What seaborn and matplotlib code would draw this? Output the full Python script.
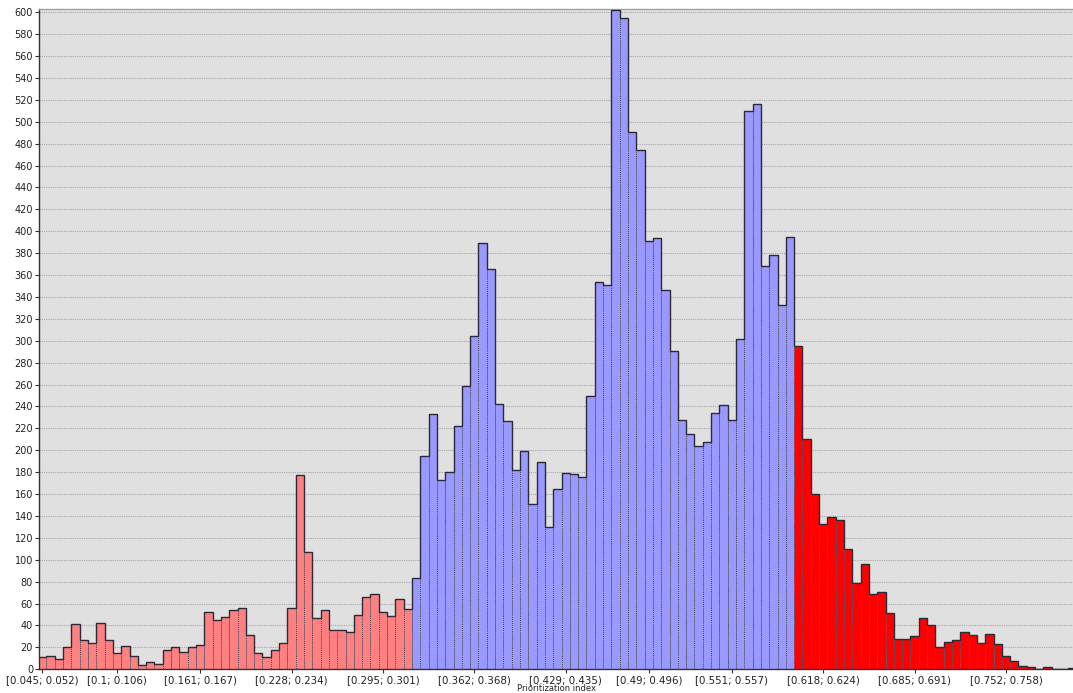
import numpy as np
import pandas as pd
import matplotlib
matplotlib.use("Agg")
import matplotlib.pyplot as plt
import seaborn as sns

# Counts per bin of the prioritization index (bin width ~0.0061, starting at 0.045)
low_counts = [11, 12, 9, 20, 41, 27, 24, 42, 27, 15, 21, 12, 4, 7, 5, 18, 20, 16, 20, 22,
              52, 45, 48, 54, 56, 31, 15, 11, 18, 24, 56, 177, 107, 47, 54, 36, 36, 34, 50, 66,
              69, 52, 49, 64, 55]
mid_counts = [83, 195, 233, 173, 180, 222, 259, 304, 389, 366, 242, 227, 182, 199, 151, 189,
              130, 165, 179, 178, 176, 250, 354, 351, 602, 595, 491, 474, 391, 394, 346, 291,
              228, 215, 204, 208, 234, 241, 228, 302, 510, 516, 368, 378, 333, 395]
high_counts = [295, 210, 160, 133, 139, 136, 110, 79, 96, 69, 71, 51, 28, 28, 30, 47, 40, 20,
               25, 27, 34, 31, 24, 32, 23, 12, 8, 3, 2, 0, 2, 0, 0, 1]

# Labelled bins on the category axis
tick_bins = [0, 9, 19, 30, 41, 52, 63, 73, 83, 94, 105, 116]
tick_labels = ["[0.045; 0.052)", "[0.1; 0.106)", "[0.161; 0.167)", "[0.228; 0.234)",
               "[0.295; 0.301)", "[0.362; 0.368)", "[0.429; 0.435)", "[0.49; 0.496)",
               "[0.551; 0.557)", "[0.618; 0.624)", "[0.685; 0.691)", "[0.752; 0.758)"]
x_title = "Prioritization index"

group_colors = {"low": "#FF8080", "mid": "#9999FF", "high": "#FF0000"}

counts = low_counts + mid_counts + high_counts
groups = (["low"] * len(low_counts) + ["mid"] * len(mid_counts)
          + ["high"] * len(high_counts))
df = pd.DataFrame({"bin": np.arange(len(counts)), "count": counts, "group": groups})

sns.set_theme(style="white")
plt.rcParams["font.family"] = ["DejaVu Sans"]

fig = plt.figure(figsize=(10.73, 6.93), dpi=100)
ax = fig.add_axes([39.3 / 1073, 1 - 669.3 / 693, 1 - 39.3 / 1073, (669.3 - 9) / 693])
ax.set_facecolor("#E0E0E0")

sns.barplot(data=df, x="bin", y="count", hue="group", palette=group_colors,
            saturation=1, dodge=False, width=1.0, legend=False, ax=ax,
            edgecolor="#4a4a5a", linewidth=0.7, linestyle=(0, (1, 1)), zorder=2)

# solid outline around the histogram silhouette
edges = np.arange(len(counts) + 1) - 0.5
ax.stairs(counts, edges, baseline=0, color="#2a2a38", linewidth=1.0, zorder=3)

ax.set_xlim(-0.36, 124.06)
ax.set_ylim(0, 603)
ax.set_yticks(np.arange(0, 601, 20))
ax.set_xticks(tick_bins)
ax.set_xticklabels(tick_labels)

ax.yaxis.grid(True, color="#A8A8A8", linestyle=(0, (1, 1)), linewidth=0.8, zorder=0)
ax.xaxis.grid(False)
ax.set_axisbelow(True)

ax.tick_params(axis="both", direction="out", length=3, width=0.8, color="#333333",
               labelsize=7, labelcolor="#222222", pad=1.5)
ax.tick_params(axis="x", bottom=True, pad=1.5, labelsize=7.4)
ax.tick_params(axis="y", left=True)

for side in ["left", "bottom"]:
    ax.spines[side].set_color("#333333")
    ax.spines[side].set_linewidth(1.0)
ax.spines["top"].set_color("#A0A0A0")
ax.spines["top"].set_linewidth(1.0)
ax.spines["right"].set_visible(False)

ax.set_ylabel("")
ax.set_xlabel("")
# axis title squeezed into the strip under the tick labels
fig.text(ax.get_position().x0 + ax.get_position().width / 2, 0.0, x_title,
         ha="center", va="bottom", fontsize=6, color="#222222")

fig.savefig("out.png", dpi=100, facecolor="white")
